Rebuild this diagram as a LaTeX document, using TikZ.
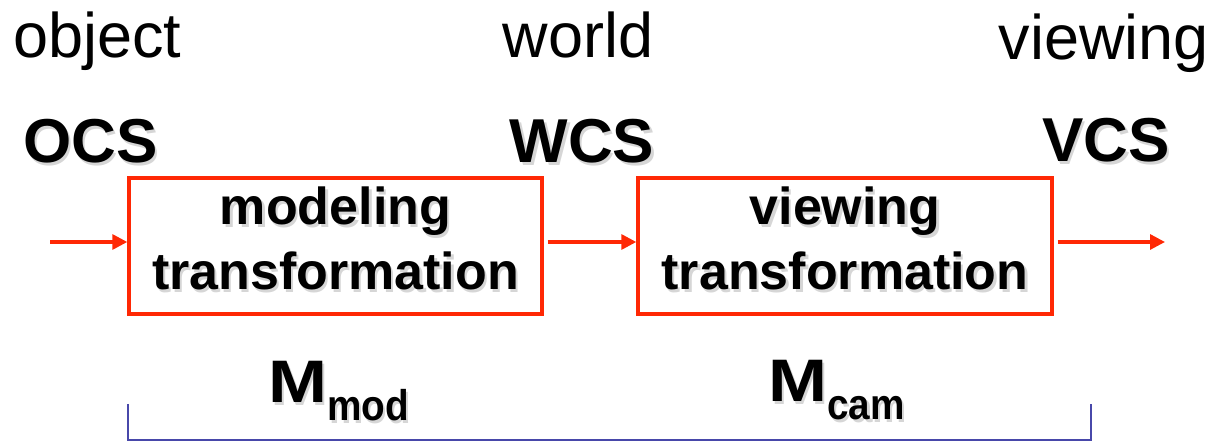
\documentclass[tikz,border=0pt]{standalone}
\usepackage{fontspec}
\setmainfont{Liberation Sans}
\usetikzlibrary{arrows.meta}

\definecolor{flowred}{RGB}{255,40,4}
\definecolor{bracketblue}{RGB}{72,72,170}

% light drop shadow: one offset grey copy behind the text
\newcommand\shadowed[1]{\makebox[0pt][l]{\hspace*{2.4pt}\raisebox{-2.4pt}{\textcolor{black!16}{#1}}}#1}

\tikzset{
  plain/.style={inner sep=0pt, font=\fontsize{63}{70}\selectfont},
  sysname/.style={inner sep=0pt, font=\fontsize{62}{70}\selectfont\bfseries},
  stagebox/.style={draw=flowred, line width=3.4pt, minimum width=413pt, minimum height=136pt, inner sep=0pt},
  stagetext/.style={inner sep=0pt, font=\fontsize{52}{60}\selectfont\bfseries, anchor=base},
  matlabel/.style={inner sep=0pt, font=\fontsize{60}{66}\selectfont\bfseries, anchor=base west},
  flow/.style={draw=flowred, line width=3.2pt, -{Triangle[length=15pt,width=15pt]}},
  brace/.style={draw=bracketblue, line width=2pt}
}

\newcommand\matsym[1]{\scalebox{1.18}[1]{M}\raisebox{-18pt}{\scalebox{0.9}[1]{\fontsize{43}{43}\selectfont #1}}}

\begin{document}
\begin{tikzpicture}[x=1pt, y=-1pt]
  \useasboundingbox (0,0) rectangle (1211,443);

  % coordinate system names
  \node[plain, anchor=base west] (objw) at (13,58) {object};
  \node[plain, anchor=base] (worldw) at (578,58) {world};
  \node[plain, anchor=base east] (vieww) at (1209,60) {viewing};

  \node[sysname, anchor=base west] (ocs) at (23,163) {\shadowed{OCS}};
  \node[sysname, anchor=base] (wcs) at (582,163) {\shadowed{WCS}};
  \node[sysname, anchor=base] (vcs) at (1106,162) {\shadowed{VCS}};

  % transformation stages
  \node[stagebox] (b1) at (335.5,246) {};
  \node[stagebox, minimum width=414pt] (b2) at (845,246) {};

  \node[stagetext] (b1a) at (335.5,225) {\shadowed{modeling}};
  \node[stagetext] (b1b) at (335.5,290) {\shadowed{transformation}};
  \node[stagetext] (b2a) at (845,225) {\shadowed{viewing}};
  \node[stagetext] (b2b) at (845,290) {\shadowed{transformation}};

  % flow arrows
  \coordinate (inpt) at (50,242);
  \coordinate (outpt) at (1165,242);
  \draw[flow] (inpt) -- (inpt -| b1.west);
  \draw[flow] ([xshift=4pt]b1.east |- inpt) -- (inpt -| b2.west);
  \draw[flow] ([xshift=4pt]b2.east |- inpt) -- (outpt);

  % matrices
  \node[matlabel] (mmod) at (268,403) {\shadowed{\matsym{mod}}};
  \node[matlabel] (mcam) at (768,402) {\shadowed{\matsym{cam}}};

  % bracket under the chain
  \coordinate (bl) at (128,404);
  \coordinate (br) at (1091,404);
  \draw[brace] (bl) -- (128,440) -- (1091,440) -- (br);
\end{tikzpicture}
\end{document}
